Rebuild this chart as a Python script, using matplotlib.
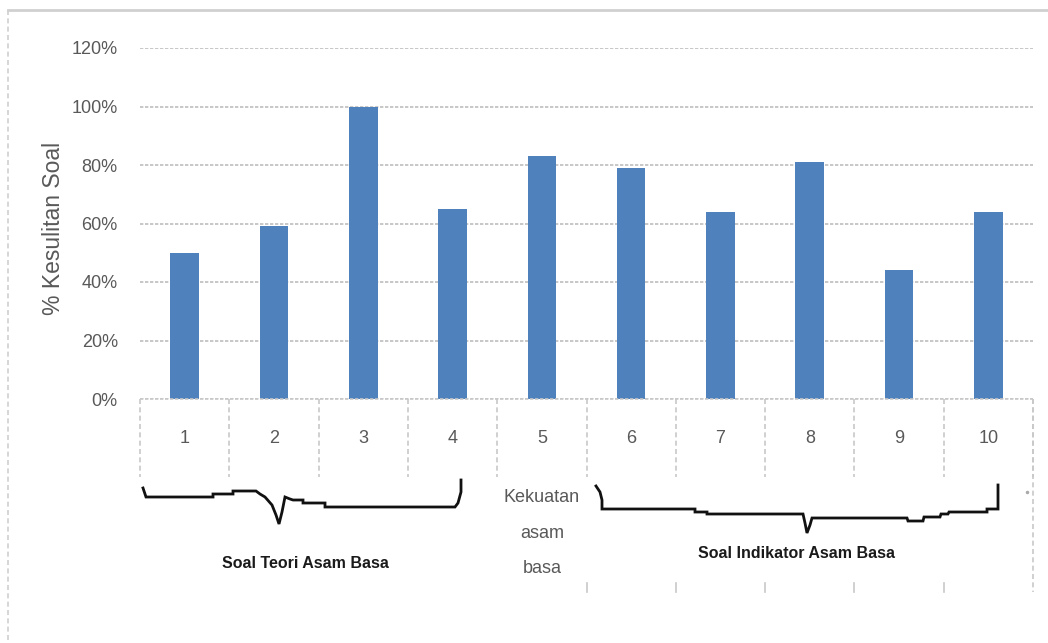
import numpy as np
import matplotlib
matplotlib.use('Agg')
from matplotlib import pyplot as plt
from matplotlib import font_manager
from matplotlib.ticker import PercentFormatter
from matplotlib.transforms import blended_transform_factory

# nilai kesulitan tiap soal
soal = ['1', '2', '3', '4', '5', '6', '7', '8', '9', '10']
kesulitan = [0.50, 0.59, 1.00, 0.65, 0.83, 0.79, 0.64, 0.81, 0.44, 0.64]
yticks = [0, 0.2, 0.4, 0.6, 0.8, 1.0, 1.2]
grup_teori = 'Soal Teori Asam Basa'
grup_kekuatan = 'Kekuatan\nasam\nbasa'
grup_indikator = 'Soal Indikator Asam Basa'
ylabel = '% Kesulitan Soal'

W, H = 1048, 643
names = {f.name for f in font_manager.fontManager.ttflist}
narrow = 'Liberation Sans Narrow' if 'Liberation Sans Narrow' in names else 'Liberation Sans'
fs = 15 if narrow == 'Liberation Sans Narrow' else 13
abu = '#595959'
garis = '#c8c8c8'

fig = plt.figure(figsize=(W / 100, H / 100), dpi=100)
fig.patch.set_facecolor('white')

# area plot: x 140..1033 px, y 48..399 px
ax = fig.add_axes([140 / W, (H - 399) / H, 893 / W, 351 / H])
ax.set_facecolor('none')
x = np.arange(len(soal))
ax.bar(x, kesulitan, width=0.32, color='#4f81bd', zorder=3)
ax.set_xlim(-0.5, len(soal) - 0.5)
ax.set_ylim(0, 1.2)
ax.set_yticks(yticks)
ax.yaxis.set_major_formatter(PercentFormatter(xmax=1, decimals=0))
ax.yaxis.grid(True, color='#bdbdbd', linestyle=(0, (2, 1)), linewidth=1.2, zorder=0)
for s in ax.spines.values():
    s.set_visible(False)
ax.tick_params(axis='y', length=0, pad=16, labelcolor=abu, labelsize=fs)
ax.set_yticklabels(ax.get_yticklabels(), family=[narrow, 'DejaVu Sans'])
ax.set_xticks(x)
ax.set_xticklabels(soal, family=[narrow, 'DejaVu Sans'], fontsize=fs, color=abu)
ax.tick_params(axis='x', length=0, pad=22)
ax.set_ylabel(ylabel, family=['Liberation Sans', 'DejaVu Sans'], fontsize=16.5, color=abu)
ax.yaxis.set_label_coords(54 / W, (H - 228) / H, transform=fig.transFigure)
ax.yaxis.label.set_va('center')

# lapisan piksel untuk garis sumbu kategori, kurung dan label grup
ov = fig.add_axes([0, 0, 1, 1])
ov.set_xlim(0, W)
ov.set_ylim(H, 0)
ov.set_autoscale_on(False)
ov.axis('off')
bt = blended_transform_factory(ax.transData, ov.transData)

# bingkai chart
ov.plot([8, W], [10, 10], color='#d0d0d0', lw=2)
ov.plot([8, 8], [10, H], color='#d0d0d0', lw=1.2, linestyle=(0, (3, 2)))

# garis sumbu kategori
ov.plot([-0.5, len(soal) - 0.5], [399, 399], transform=bt, color=garis, lw=1.2,
        linestyle=(0, (2, 1)))
for b in np.arange(len(soal) + 1) - 0.5:
    ov.plot([b, b], [399, 477], transform=bt, color=garis, lw=1.2, linestyle=(0, (3, 2)))
for b in np.arange(4, len(soal) - 1) + 0.5:
    ov.plot([b, b], [583, 592], transform=bt, color=garis, lw=1.2)
ov.plot([len(soal) - 0.5] * 2, [399, 592], transform=bt, color=garis, lw=1.2,
        linestyle=(0, (3, 2)))
ov.plot([1027], [492], marker='o', ms=1.5, color='#aaaaaa')

# kurung kurawal
kurung_kiri = [(143, 488), (146, 497), (213, 497), (213, 494), (233, 494), (233, 491),
               (256, 491), (260, 494), (265, 497), (272, 505), (276, 515), (279, 524),
               (282, 512), (285, 497), (290, 499), (293, 500), (303, 500), (303, 503),
               (325, 503), (325, 507), (455, 507), (458, 503), (461, 492), (461, 480)]
kurung_kanan = [(596, 486), (600, 492), (602, 500), (602, 509), (695, 509), (695, 512),
                (707, 512), (707, 514), (803, 514), (805, 523), (807, 533), (810, 525),
                (812, 518), (907, 518), (908, 521), (923, 521), (924, 517), (940, 517),
                (941, 514), (948, 514), (949, 512), (987, 512), (987, 509), (998, 509),
                (998, 485)]
for k in (kurung_kiri, kurung_kanan):
    px, py = zip(*k)
    ov.plot(px, py, color='#111111', lw=2, solid_joinstyle='miter')

fs_grup = 13 if narrow == 'Liberation Sans Narrow' else 11.5
ov.text(305, 563, grup_teori, ha='center', va='center', fontsize=fs_grup, weight='bold',
        family=[narrow, 'DejaVu Sans'], color='#1a1a1a')
ov.text(797, 553, grup_indikator, ha='center', va='center', fontsize=fs_grup, weight='bold',
        family=[narrow, 'DejaVu Sans'], color='#1a1a1a')
ov.text(4, 533, grup_kekuatan, transform=bt, ha='center', va='center', fontsize=fs,
        family=[narrow, 'DejaVu Sans'], color=abu, linespacing=2.4)

fig.savefig('out.png', dpi=100, facecolor='white')
